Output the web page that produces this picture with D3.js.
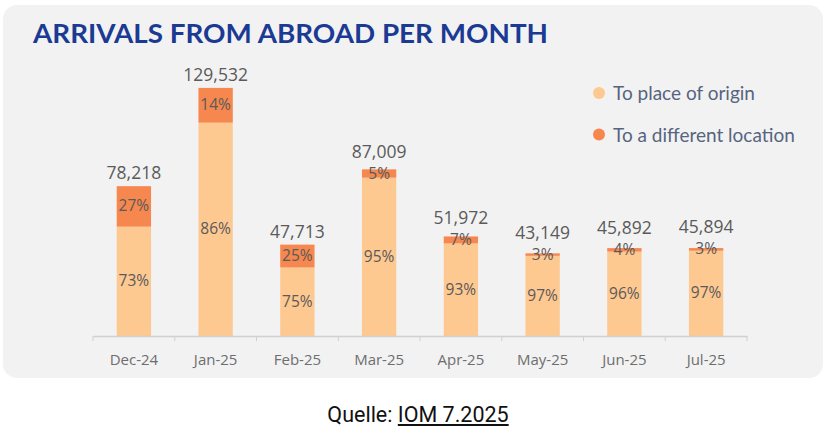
<!DOCTYPE html>
<html>
<head>
<meta charset="utf-8">
<script src="https://cdn.jsdelivr.net/npm/d3@7"></script>
<style>
  body { margin: 0; background: #fff; }
  svg { display: block; }
</style>
</head>
<body>
<svg id="chart" width="828" height="426"></svg>
<script>
// données
const months = ['Dec-24', 'Jan-25', 'Feb-25', 'Mar-25', 'Apr-25', 'May-25', 'Jun-25', 'Jul-25'];
const totals = [78218, 129532, 47713, 87009, 51972, 43149, 45892, 45894];
const pctOrigin = [73, 86, 75, 95, 93, 97, 96, 97];
const pctOther = [27, 14, 25, 5, 7, 3, 4, 3];
const legendLabels = ['To place of origin', 'To a different location'];

const colOrigin = '#fec891';
const colOther = '#f6874e';
const grey = '#5a5a5a';

const svg = d3.select('#chart');

// fond du panneau
svg.append('rect')
  .attr('x', 3).attr('y', 5)
  .attr('width', 820).attr('height', 373)
  .attr('rx', 14)
  .attr('fill', '#f2f2f2');

// titre
svg.append('text')
  .attr('x', 33).attr('y', 43)
  .attr('font-family', 'Lato')
  .attr('font-weight', 700)
  .attr('font-size', 27)
  .attr('fill', '#1b3a94')
  .attr('textLength', 515)
  .attr('lengthAdjust', 'spacingAndGlyphs')
  .text('ARRIVALS FROM ABROAD PER MONTH');

const baseY = 336;
const x = d3.scaleBand().domain(months).range([93, 747]).paddingInner(0.58).paddingOuter(0.29);
const y = d3.scaleLinear().domain([0, 130000]).range([baseY, 87]);

const data = months.map((m, i) => ({
  month: m,
  total: totals[i],
  origin: totals[i] * pctOrigin[i] / 100,
  pOrigin: pctOrigin[i],
  pOther: pctOther[i]
}));

const cx = d => x(d.month) + x.bandwidth() / 2;
const midOther = d => (y(d.origin) + y(d.total)) / 2;

// segments
const g = svg.append('g');
g.selectAll('rect.origin')
  .data(data).enter().append('rect')
  .attr('class', 'origin')
  .attr('x', d => x(d.month))
  .attr('width', x.bandwidth())
  .attr('y', d => y(d.origin))
  .attr('height', d => baseY - y(d.origin))
  .attr('fill', colOrigin);

g.selectAll('rect.other')
  .data(data).enter().append('rect')
  .attr('class', 'other')
  .attr('x', d => x(d.month))
  .attr('width', x.bandwidth())
  .attr('y', d => y(d.total))
  .attr('height', d => y(d.origin) - y(d.total))
  .attr('fill', colOther);

// étiquettes des pourcentages
g.selectAll('text.po')
  .data(data).enter().append('text')
  .attr('x', cx)
  .attr('y', d => (y(d.origin) + baseY) / 2 + 5)
  .attr('text-anchor', 'middle')
  .attr('font-family', 'Open Sans')
  .attr('font-size', 15.5)
  .attr('fill', grey)
  .text(d => d.pOrigin + '%');

g.selectAll('text.pt')
  .data(data).enter().append('text')
  .attr('x', cx)
  .attr('y', d => midOther(d) + 5)
  .attr('text-anchor', 'middle')
  .attr('font-family', 'Open Sans')
  .attr('font-size', 15.5)
  .attr('fill', grey)
  .text(d => d.pOther + '%');

// totaux, poussés au-dessus des petites étiquettes
g.selectAll('text.tot')
  .data(data).enter().append('text')
  .attr('x', cx)
  .attr('y', d => Math.min(y(d.total) - 7, midOther(d) - 16))
  .attr('text-anchor', 'middle')
  .attr('font-family', 'Open Sans')
  .attr('font-size', 17.5)
  .attr('fill', grey)
  .text(d => d3.format(',')(d.total));

// axe
const axis = svg.append('g')
  .attr('transform', `translate(0,${baseY})`)
  .call(d3.axisBottom(x).tickSize(0).tickPadding(18));
axis.select('.domain').attr('stroke', '#d0d0d0').attr('stroke-width', 1.5);
axis.selectAll('text')
  .attr('font-family', 'Open Sans')
  .attr('font-size', 15)
  .attr('fill', '#6e6e6e');
// petits traits entre catégories
axis.selectAll('line.sep')
  .data(months.concat(['end'])).enter().append('line')
  .attr('class', 'sep')
  .attr('x1', (d, i) => i < months.length ? x(d) - x.step() * x.paddingInner() / 2 : 747)
  .attr('x2', (d, i) => i < months.length ? x(d) - x.step() * x.paddingInner() / 2 : 747)
  .attr('y1', 0).attr('y2', 5)
  .attr('stroke', '#d0d0d0');

// légende
const leg = svg.append('g');
legendLabels.forEach((lab, i) => {
  leg.append('circle')
    .attr('cx', 599).attr('cy', 93 + i * 41.5)
    .attr('r', 6)
    .attr('fill', i === 0 ? colOrigin : colOther);
  leg.append('text')
    .attr('x', 613).attr('y', 100 + i * 41.5)
    .attr('font-family', 'Lato')
    .attr('font-size', 19)
    .attr('fill', '#56647f')
    .text(lab);
});

// source
const src = svg.append('text')
  .attr('x', 418).attr('y', 422)
  .attr('text-anchor', 'middle')
  .attr('font-family', 'Roboto')
  .attr('font-size', 21.5)
  .attr('fill', '#111');
src.append('tspan').text('Quelle: ');
src.append('tspan').attr('text-decoration', 'underline').text('IOM 7.2025');
</script>
</body>
</html>
